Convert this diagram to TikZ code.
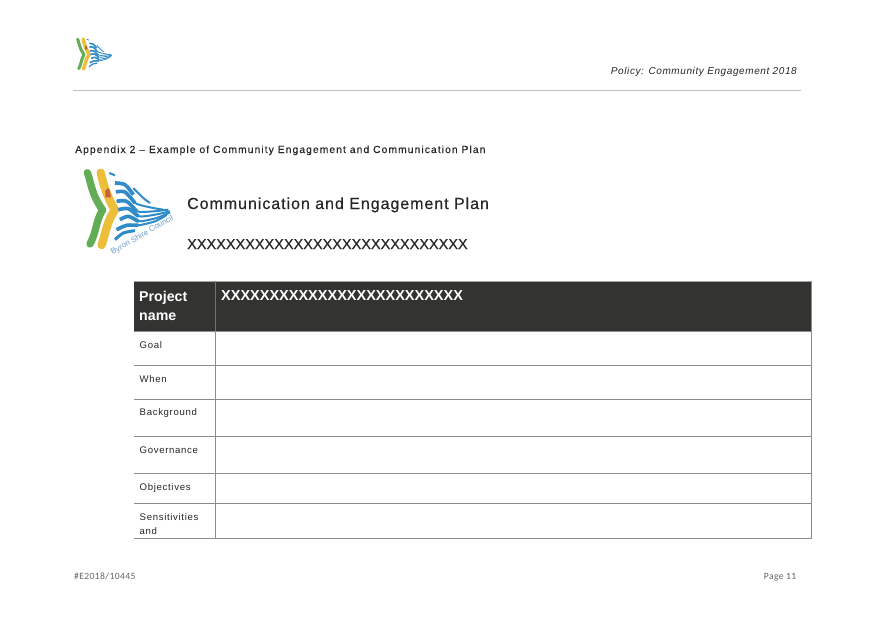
\documentclass[tikz,border=0pt]{standalone}
\usepackage{fontspec}
\setmainfont{Liberation Sans}
\newfontfamily\bodyf[LetterSpace=7]{Liberation Sans}
\newfontfamily\polf[LetterSpace=6]{Liberation Sans}
\newfontfamily\apxf[LetterSpace=10.5,FakeBold=0.25]{Liberation Sans}
\newfontfamily\ttlf[LetterSpace=6,FakeBold=0.35]{Liberation Sans}
\newfontfamily\xf[FakeBold=0.3]{Liberation Sans}
\newfontfamily\footf[LetterSpace=4]{Carlito}
\definecolor{headdark}{HTML}{333431}
\definecolor{rulegray}{HTML}{8C8C8C}
\definecolor{logogreen}{HTML}{62AD55}
\definecolor{logoyellow}{HTML}{EDBE3A}
\definecolor{logoblue}{HTML}{2F8CC8}
\definecolor{logotext}{HTML}{6F9CCB}
\definecolor{logored}{HTML}{C9603A}
\tikzset{
  txt/.style={inner sep=0pt,anchor=base west,text=black!85},
  cellrule/.style={draw=rulegray,line width=0.9pt},
  wave/.style={draw=logoblue,line cap=butt,line join=round},
  pics/logo/.style={code={
    \draw[logogreen,line width=#1*22pt,line cap=round,line join=round] (52,38) .. controls (62,60) and (62,100) .. (98,150) .. controls (78,180) and (80,215) .. (60,252);
    \draw[logoyellow,line width=#1*25pt,line cap=round,line join=round] (92,38) .. controls (100,70) and (108,105) .. (135,150) .. controls (112,180) and (108,215) .. (95,255);
    \fill[logored] (113,84) -- (119,90) -- (123,112) -- (106,112) -- (106,92) -- cycle;
    \draw[wave,line width=#1*6pt] (118,39) -- (135,46);
    \draw[wave,line width=#1*11pt] plot[smooth] coordinates {(135,69) (165,74) (190,104)};
    \draw[wave,line width=#1*6pt] plot[smooth] coordinates {(190,84) (220,114) (240,129)};
    \draw[wave,line width=#1*6pt] plot[smooth] coordinates {(138,96) (165,96) (195,129) (240,142) (280,149)};
    \draw[wave,line width=#1*11pt] plot[smooth] coordinates {(138,96) (165,96) (195,129)};
    \draw[wave,line width=#1*6pt] plot[smooth] coordinates {(140,124) (170,124) (200,154) (250,154) (295,149)};
    \draw[wave,line width=#1*11pt] plot[smooth] coordinates {(140,124) (170,124) (200,154)};
    \draw[wave,line width=#1*6pt] plot[smooth] coordinates {(145,149) (175,146) (205,169) (255,164) (300,154)};
    \draw[wave,line width=#1*11pt] plot[smooth] coordinates {(145,149) (175,146) (205,169)};
    \draw[wave,line width=#1*6pt] plot[smooth] coordinates {(150,179) (175,169) (205,184) (260,174) (300,157)};
    \draw[wave,line width=#1*11pt] plot[smooth] coordinates {(150,179) (175,169) (205,184)};
    \draw[wave,line width=#1*6pt] plot[smooth] coordinates {(140,209) (170,196) (205,196) (255,184) (290,165)};
    \draw[wave,line width=#1*11pt] plot[smooth] coordinates {(140,209) (170,196) (205,196)};
    \draw[wave,line width=#1*9pt] plot[smooth] coordinates {(135,239) (160,219) (195,212)};
  }}
}
\begin{document}
\begin{tikzpicture}[x=1pt,y=-1pt]
\useasboundingbox[fill=white] (0,0) rectangle (875,619);
% small logo
\begin{scope}[shift={(70.5,33.9)},x=0.138pt,y=-0.138pt]
  \pic {logo=0.138};
\end{scope}
% large logo
\begin{scope}[shift={(70,160)},x=0.3333pt,y=-0.3333pt]
  \pic {logo=0.3333};
  \node[rotate=30,inner sep=0pt,text=logotext,font=\fontsize{8}{10}\selectfont] (cname) at (217,226) {Byron Shire Council};
\end{scope}
% header
\node[txt,anchor=base east,font=\polf\itshape\fontsize{10}{12}\selectfont] (policy) at (797,74) {Policy: Community Engagement 2018};
\coordinate (hl) at (73,90.5); \coordinate (hr) at (801,90.5);
\draw[draw=black!25,line width=1.6pt] (hl) -- (hr);
\node[txt,font=\apxf\fontsize{10.3}{12}\selectfont] (appx) at (75,153) {Appendix 2 – Example of Community Engagement and Communication Plan};
\node[txt,font=\ttlf\fontsize{16}{18}\selectfont] (title) at (187,209) {Communication and Engagement Plan};
\node[txt,font=\xf\fontsize{14.5}{16}\selectfont] (xline) at (187,249) {XXXXXXXXXXXXXXXXXXXXXXXXXXXXX};
% table
\fill[headdark] (134,281) rectangle (811,332);
\draw[draw=black!35,line width=0.8pt] (134,281) -- (811,281);
\draw[draw=black!55,line width=0.6pt] (215.5,281) -- (215.5,332);
\node[txt,text=white,font=\bfseries\fontsize{14.2}{19}\selectfont] (pn1) at (139,301) {Project};
\node[txt,text=white,font=\bfseries\fontsize{14.2}{19}\selectfont] (pn2) at (139,320) {name};
\node[txt,text=white,font=\bfseries\fontsize{14.5}{19}\selectfont] (xhead) at (221,300) {XXXXXXXXXXXXXXXXXXXXXXXXX};
\foreach \yy in {331.5,365.5,399.5,436.5,473.5,503.5,538.5}
  \draw[cellrule] (134,\yy) -- (811.4,\yy);
\draw[cellrule] (215.5,332) -- (215.5,538.5);
\draw[cellrule] (811,281) -- (811,538.5);
\tikzset{lab/.style={txt,font=\bodyf\fontsize{9.6}{12}\selectfont}}
\node[lab] (r1) at (139.5,348) {Goal};
\node[lab] (r2) at (139.5,382) {When};
\node[lab] (r3) at (139.5,415) {Background};
\node[lab] (r4) at (139.5,453) {Governance};
\node[lab] (r5) at (139.5,490) {Objectives};
\node[lab] (r6a) at (139.5,520.5) {Sensitivities};
\node[lab] (r6b) at (139.5,534.5) {and};
% footer
\tikzset{foot/.style={txt,text=black!60,font=\footf\fontsize{9.6}{12}\selectfont}}
\node[foot] (fl) at (74,579.5) {\#E2018/10445};
\node[foot,anchor=base east] (fr) at (796.5,579.5) {Page 11};
\end{tikzpicture}
\end{document}
